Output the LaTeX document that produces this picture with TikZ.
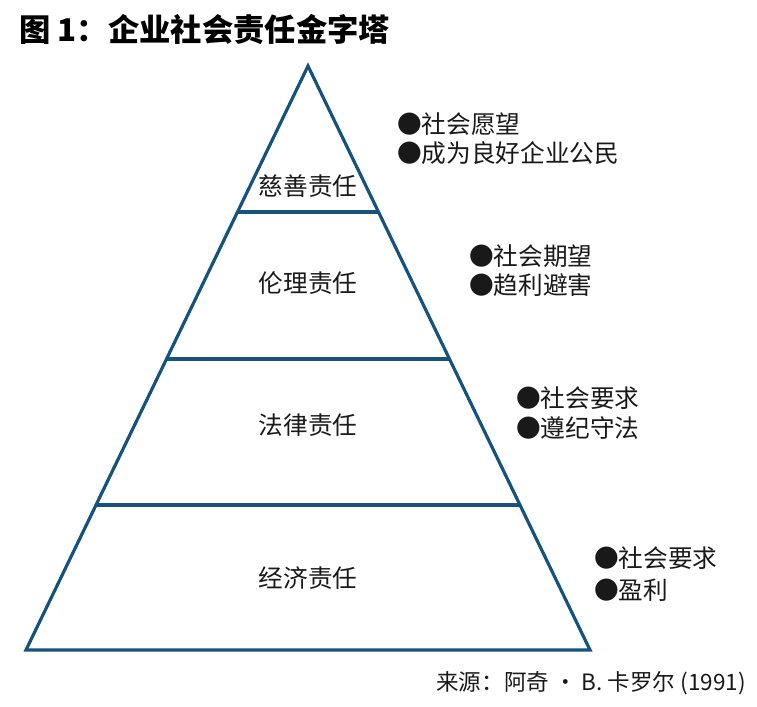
\documentclass[tikz,border=0pt]{standalone}
\usepackage{fontspec}
\newfontfamily\cjk{Noto Sans CJK SC}
\newfontfamily\cjkbold{Noto Sans CJK SC Black}
\definecolor{pyr}{HTML}{15527C}
\begin{document}
\begin{tikzpicture}[x=0.75pt,y=-0.75pt,
  edge/.style={draw=pyr,line width=2.4pt,line join=miter},
  lvl/.style={font=\cjk\fontsize{18.5pt}{22pt}\selectfont,inner sep=0pt,text=black!90},
  bul/.style={font=\cjk\fontsize{18.5pt}{22pt}\selectfont,inner sep=0pt,anchor=west,text=black!90},
  ttl/.style={font=\cjkbold\fontsize{23.5pt}{28pt}\selectfont,inner sep=0pt,anchor=west},
  src/.style={font=\cjk\fontsize{16.9pt}{20pt}\selectfont,inner sep=0pt,anchor=east,text=black!90}]
\useasboundingbox (0,0) rectangle (757,707);
\coordinate (apex) at (308,66);
\coordinate (bl) at (26,650);
\coordinate (br) at (590,650);
\coordinate (l1) at (237.5,212);
\coordinate (r1) at (378.5,212);
\coordinate (l2) at (166.5,359);
\coordinate (r2) at (449.5,359);
\coordinate (l3) at (96,505);
\coordinate (r3) at (520,505);
\draw[edge] (apex) -- (br) -- (bl) -- cycle;
\draw[edge] (l1) -- (r1);
\draw[edge] (l2) -- (r2);
\draw[edge] (l3) -- (r3);
\node[ttl] (title) at (19,30) {图 1：企业社会责任金字塔};
\node[lvl] (t1) at (308,186) {慈善责任};
\node[lvl] (t2) at (308,283) {伦理责任};
\node[lvl] (t3) at (308,425) {法律责任};
\node[lvl] (t4) at (308,578) {经济责任};
\node[bul] (b1a) at (397,124) {●社会愿望};
\node[bul] (b1b) at (397,153) {●成为良好企业公民};
\node[bul] (b2a) at (469,256) {●社会期望};
\node[bul] (b2b) at (469,285) {●趋利避害};
\node[bul] (b3a) at (516,398) {●社会要求};
\node[bul] (b3b) at (516,428) {●遵纪守法};
\node[bul] (b4a) at (594,558) {●社会要求};
\node[bul] (b4b) at (594,590) {●盈利};
\node[src] (source) at (746,683) {来源：阿奇 · B. 卡罗尔 (1991)};
\end{tikzpicture}
\end{document}
